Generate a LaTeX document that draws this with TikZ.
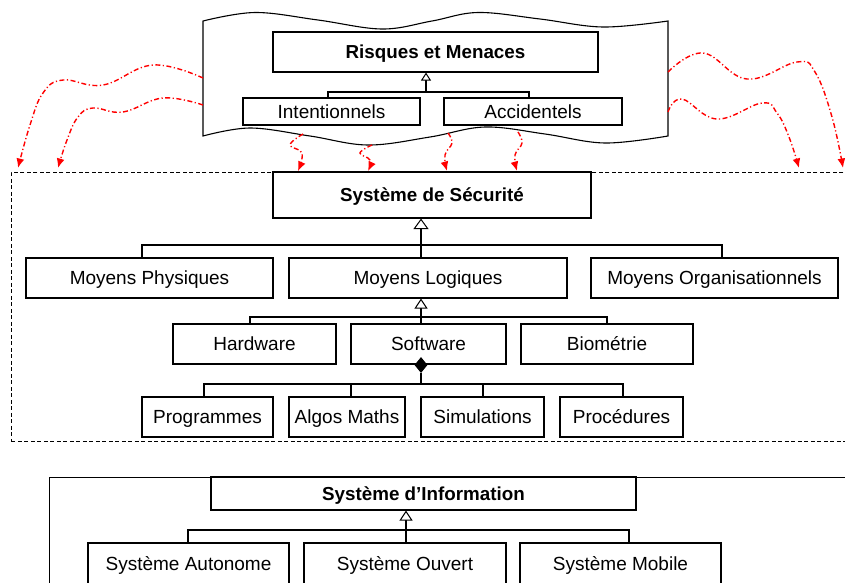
\documentclass[tikz,border=0pt]{standalone}
\usepackage{fontspec}
\setmainfont{Liberation Sans}
\usetikzlibrary{arrows.meta,shapes.geometric}
\begin{document}
\begin{tikzpicture}[x=1pt,y=-1pt,
  box/.style={draw, line width=1.1pt, fill=white, inner sep=0pt,
    text height=17pt, text depth=4pt,
    font=\fontsize{19}{21}\selectfont},
  titlebox/.style={box, font=\fontsize{18.8}{21}\selectfont\bfseries},
  link/.style={draw, line width=1.1pt},
  gen/.style={link, -{Triangle[length=10pt,width=13pt,fill=white,line width=1pt]}},
  genbig/.style={link, -{Triangle[length=10.5pt,width=15pt,fill=white,line width=1pt]}},
  gensmall/.style={link, -{Triangle[length=8pt,width=10pt,fill=white,line width=1pt]}},
  threat/.style={draw=red, line width=1.4pt,
    dash pattern=on 5pt off 2.5pt on 1.2pt off 2.5pt,
    -{Latex[length=9.5pt,width=8pt]}}
]
\useasboundingbox (0,0) rectangle (845,582);
\clip (0,0) rectangle (845,582);

% containers
\node[draw, line width=0.9pt, dash pattern=on 4pt off 2.5pt, inner sep=0pt,
  minimum width=860pt, minimum height=269pt, anchor=north west] (secu) at (11,172) {};
\node[draw, line width=1.1pt, inner sep=0pt,
  minimum width=820pt, minimum height=150pt, anchor=north west] (sifr) at (49,477) {};

% wavy banner holding the threats
\draw[line width=1.1pt, fill=white]
  (203,136) -- (203,21)
  -- plot[smooth, tension=0.6] coordinates {(203,21) (255,12.5) (318,20) (382,29) (432,21) (478,12.5) (540,19) (603,27) (668,21)}
  -- (668,136)
  -- plot[smooth, tension=0.6] coordinates {(668,136) (605,143) (545,134) (485,127) (430,137) (368,145) (310,136) (250,128) (203,136)}
  -- cycle;

% threat boxes
\node[titlebox, minimum width=325pt, minimum height=40pt] (risq) at (435.5,52) {Risques et Menaces};
\node[box, minimum width=177pt, minimum height=27pt] (inten) at (331.5,111.5) {Intentionnels};
\node[box, minimum width=178pt, minimum height=27pt] (accid) at (533,111.5) {Accidentels};

\coordinate (rb) at (426,92);
\coordinate (rbl) at (328,92);
\coordinate (rbr) at (529,92);
\draw[link] (inten.north -| rbl) -- (rbl) -- (rbr) -- (accid.north -| rbr);
\draw[gensmall] (rb) -- (risq.south -| rb);

% security system
\node[titlebox, minimum width=318pt, minimum height=46pt] (sys) at (432,195) {Système de Sécurité};
\node[box, minimum width=247pt, minimum height=40pt] (phys) at (149.5,278) {Moyens Physiques};
\node[box, minimum width=278pt, minimum height=40pt] (logi) at (428,278) {Moyens Logiques};
\node[box, minimum width=247pt, minimum height=40pt] (orga) at (714.5,278) {Moyens Organisationnels};

\coordinate (mb) at (421,245);
\coordinate (mbl) at (142,245);
\coordinate (mbr) at (722,245);
\draw[link] (phys.north -| mbl) -- (mbl) -- (mbr) -- (orga.north -| mbr);
\draw[genbig] (logi.north -| mb) -- (sys.south -| mb);

\node[box, minimum width=163pt, minimum height=40pt] (hard) at (254.5,344) {Hardware};
\node[box, minimum width=155pt, minimum height=40pt] (soft) at (428.5,344) {Software};
\node[box, minimum width=172pt, minimum height=40pt] (biom) at (607,344) {Biométrie};

\coordinate (lb) at (421,317);
\coordinate (lbl) at (250,317);
\coordinate (lbr) at (607,317);
\draw[link] (hard.north -| lbl) -- (lbl) -- (lbr) -- (biom.north -| lbr);
\draw[gen] (soft.north -| lb) -- (logi.south -| lb);

\node[box, minimum width=131pt, minimum height=40pt] (prog) at (207.5,417) {Programmes};
\node[box, minimum width=116pt, minimum height=40pt] (algo) at (347,417) {Algos Maths};
\node[box, minimum width=123pt, minimum height=40pt] (simu) at (482.5,417) {Simulations};
\node[box, minimum width=123pt, minimum height=40pt] (proc) at (621.5,417) {Procédures};

\node[diamond, fill=black, inner sep=0pt, minimum width=13pt, minimum height=16pt] (agg) at (421,365) {};
\coordinate (sb) at (421,384);
\coordinate (sbl) at (204,384);
\coordinate (sbr) at (623,384);
\coordinate (sb2) at (351,384);
\coordinate (sb3) at (483,384);
\draw[link] (agg.south) -- (sb);
\draw[link] (prog.north -| sbl) -- (sbl) -- (sbr) -- (proc.north -| sbr);
\draw[link] (algo.north -| sb2) -- (sb2);
\draw[link] (simu.north -| sb3) -- (sb3);

% information system
\node[titlebox, minimum width=425pt, minimum height=33pt] (info) at (423.5,493.5) {Système d’Information};
\node[box, minimum width=201pt, minimum height=41pt] (auto) at (188.5,563.5) {Système Autonome};
\node[box, minimum width=202pt, minimum height=41pt] (ouve) at (405,563.5) {Système Ouvert};
\node[box, minimum width=201pt, minimum height=41pt] (mobi) at (620.5,563.5) {Système Mobile};

\coordinate (ib) at (406,530);
\coordinate (ibl) at (188,530);
\coordinate (ibr) at (629,530);
\draw[link] (auto.north -| ibl) -- (ibl) -- (ibr) -- (mobi.north -| ibr);
\draw[gen] (ouve.north -| ib) -- (info.south -| ib);

% threats reaching the security system
\coordinate (sL1) at (203,78);
\coordinate (sL2) at (203,105);
\coordinate (sR1) at (668,72);
\coordinate (sR2) at (668,112);
\coordinate (sB1) at (303,134);
\coordinate (sB2) at (372,145);
\coordinate (sB3) at (448,133);
\coordinate (sB4) at (518,132);
\coordinate (tL1) at (18,168);
\coordinate (tL2) at (58,168);
\coordinate (tR1) at (843,168);
\coordinate (tR2) at (799,168);
\coordinate (tB1) at (298,171);
\coordinate (tB2) at (368,171);
\coordinate (tB3) at (447,171);
\coordinate (tB4) at (517,171);

\draw[threat] plot[smooth, tension=0.7] coordinates {(sL1) (153,65) (103,85) (63,80) (43,93) (30,125) (tL1)};
\draw[threat] plot[smooth, tension=0.7] coordinates {(sL2) (163,98) (123,112) (93,108) (78,117) (67,140) (tL2)};
\draw[threat] plot[smooth, tension=0.7] coordinates {(sR1) (703,53) (747,79) (797,62) (815,72) (832,117) (tR1)};
\draw[threat] plot[smooth, tension=0.7] coordinates {(sR2) (682,99) (717,119) (762,103) (777,113) (789,137) (tR2)};
\draw[threat] plot[smooth, tension=0.7] coordinates {(sB1) (290,145) (302,153) (tB1)};
\draw[threat] plot[smooth, tension=0.7] coordinates {(sB2) (360,153) (370,160) (tB2)};
\draw[threat] plot[smooth, tension=0.7] coordinates {(sB3) (452,143) (445,155) (tB3)};
\draw[threat] plot[smooth, tension=0.7] coordinates {(sB4) (522,143) (515,155) (tB4)};
\end{tikzpicture}
\end{document}
